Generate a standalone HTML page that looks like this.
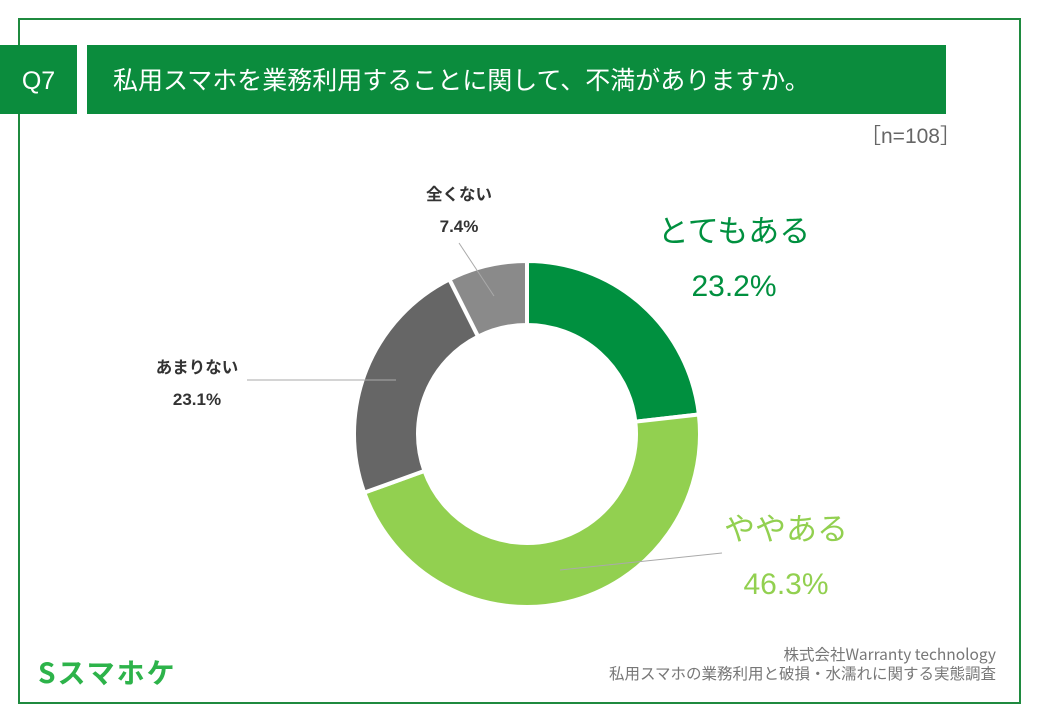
<!DOCTYPE html>
<html><head><meta charset="utf-8">
<style>
body{margin:0;width:1040px;height:720px;background:#fff;font-family:"Liberation Sans","Noto Sans CJK JP",sans-serif;overflow:hidden;position:relative}
.frame{position:absolute;left:18px;top:18px;width:1003px;height:686px;border:2px solid #1f8a3f;box-sizing:border-box}
.q{position:absolute;left:0;top:45px;width:77px;height:69px;background:#0b8c3d;color:#fff;font-size:25px;line-height:72px;text-align:center}
.title{position:absolute;left:87px;top:45px;width:859px;height:69px;background:#0b8c3d;color:#fff;font-size:25px;line-height:69px;padding-left:26px;box-sizing:border-box;font-family:"Noto Sans CJK JP",sans-serif}
.n{position:absolute;left:860px;top:120px;font-size:21px;color:#666}
.src{position:absolute;right:44px;top:645px;font-size:15.5px;color:#777;text-align:right;line-height:19px;font-family:"Noto Sans CJK JP",sans-serif}
.logo{position:absolute;left:38px;top:652px;font-size:28px;font-weight:bold;color:#2db34a;font-family:"Noto Sans CJK JP",sans-serif;letter-spacing:2px}
</style></head><body>
<div class="frame"></div>
<div class="q">Q7</div>
<div class="title">私用スマホを業務利用することに関して、不満がありますか。</div>
<div class="n">［n=108］</div>
<svg id="chart" width="1040" height="720" style="position:absolute;left:0;top:0"></svg>
<div class="src">株式会社Warranty technology<br>私用スマホの業務利用と破損・水濡れに関する実態調査</div>
<div class="logo">Sスマホケ</div>
<script>
const categories=["とてもある","ややある","あまりない","全くない"];
const values=[23.2,46.3,23.1,7.4];
const labels=["23.2%","46.3%","23.1%","7.4%"];
const colors=["#00903f","#92d050","#666666","#8a8a8a"];
const NS="http://www.w3.org/2000/svg";
const svg=document.getElementById("chart");
const cx=527,cy=434,R=173,r=109;
const total=values.reduce((a,b)=>a+b,0);
function pt(a,rad){return [cx+rad*Math.sin(a),cy-rad*Math.cos(a)];}
let acc=0;
values.forEach((v,i)=>{
 const a0=acc/total*2*Math.PI,a1=(acc+v)/total*2*Math.PI;acc+=v;
 const large=a1-a0>Math.PI?1:0;
 const p0=pt(a0,R),p1=pt(a1,R),q1=pt(a1,r),q0=pt(a0,r);
 const p=document.createElementNS(NS,"path");
 p.setAttribute("d",`M${p0}A${R},${R} 0 ${large} 1 ${p1}L${q1}A${r},${r} 0 ${large} 0 ${q0}Z`);
 p.setAttribute("fill",colors[i]);p.setAttribute("stroke","#fff");p.setAttribute("stroke-width","4");
 
 
 svg.appendChild(p);
});
function line(x1,y1,x2,y2,n){const l=document.createElementNS(NS,"line");l.setAttribute("x1",x1);l.setAttribute("y1",y1);l.setAttribute("x2",x2);l.setAttribute("y2",y2);l.setAttribute("stroke","#aaa");l.setAttribute("stroke-width","1");
 
 
 svg.appendChild(l);}
line(560,570,722,553,"leader-yayaaru");
line(247,380,396,380,"leader-amarinai");
line(459,243,494,296,"leader-mattakunai");
function txt(x,y,s,size,fill,w,n){const t=document.createElementNS(NS,"text");t.setAttribute("x",x);t.setAttribute("y",y);t.setAttribute("font-size",size);t.setAttribute("fill",fill);t.setAttribute("font-weight",w);t.setAttribute("text-anchor","middle");t.setAttribute("font-family",'"Liberation Sans","Noto Sans CJK JP",sans-serif');t.textContent=s;
 
 
 svg.appendChild(t);}
txt(734,242,categories[0],31,"#00903f","normal","label-totemoaru");
txt(734,296,labels[0],30,"#00903f","normal","value-totemoaru");
txt(786,540,categories[1],31,"#92d050","normal","label-yayaaru");
txt(786,594,labels[1],30,"#92d050","normal","value-yayaaru");
txt(197,373,categories[2],16.5,"#333","bold","label-amarinai");
txt(197,405,labels[2],17,"#333","bold","value-amarinai");
txt(459,200,categories[3],16.5,"#333","bold","label-mattakunai");
txt(459,232,labels[3],17,"#333","bold","value-mattakunai");
</script>
</body></html>
